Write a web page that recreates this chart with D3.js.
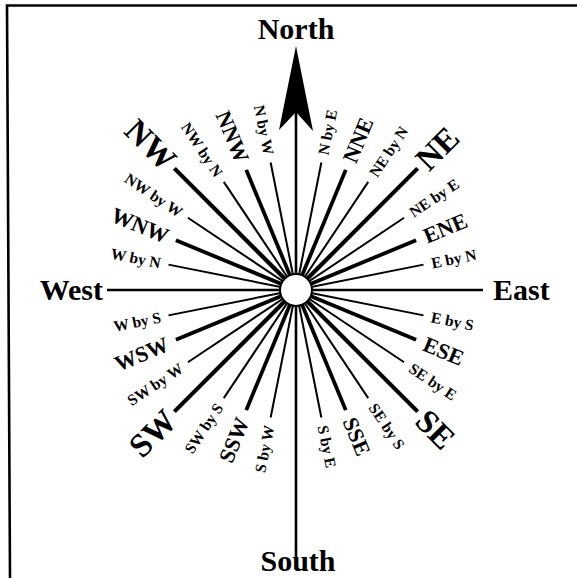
<!DOCTYPE html>
<html>
<head>
  <meta charset="utf-8">
  <script src="https://d3js.org/d3.v7.min.js"></script>
  <style>
    body { margin: 0; background: #fff; }
    svg text { font-family: "Liberation Serif", "Times New Roman", serif; font-weight: bold; fill: #000; }
  </style>
</head>
<body>
<script>
  // the 32 points of the compass, clockwise from north
  var pointNames = ["North", "N by E", "NNE", "NE by N", "NE", "NE by E", "ENE", "E by N",
    "East", "E by S", "ESE", "SE by E", "SE", "SE by S", "SSE", "S by E",
    "South", "S by W", "SSW", "SW by S", "SW", "SW by W", "WSW", "W by S",
    "West", "W by N", "WNW", "NW by W", "NW", "NW by N", "NNW", "N by W"];
  // 0 = cardinal, 1 = intercardinal, 2 = half wind, 3 = quarter wind
  var pointRank = [0, 3, 2, 3, 1, 3, 2, 3,
    0, 3, 2, 3, 1, 3, 2, 3,
    0, 3, 2, 3, 1, 3, 2, 3,
    0, 3, 2, 3, 1, 3, 2, 3];

  var width = 577, height = 578;
  var cx = 296, cy = 290;

  var svg = d3.select("body").append("svg")
    .attr("width", width)
    .attr("height", height);

  // frame (top and left only, like the scan)
  svg.append("path")
    .attr("d", "M10,578 L7,5.5 L577,5.5")
    .attr("fill", "none")
    .attr("stroke", "#000")
    .attr("stroke-width", 2.6);

  var bearing = d3.scaleLinear().domain([0, pointNames.length]).range([0, 360]);
  var rayLen = d3.scaleOrdinal().domain([1, 2, 3]).range([172, 130, 130]);
  var rayWidth = d3.scaleOrdinal().domain([0, 1, 2, 3]).range([2.6, 4.2, 3.8, 2]);
  var fontSize = d3.scaleOrdinal().domain([1, 2, 3]).range([33, 22, 15.5]);
  var labelGap = d3.scaleOrdinal().domain([1, 2, 3]).range([5, 9, 8]);

  var rad = function(deg) { return deg * Math.PI / 180; };
  var px = function(a, r) { return cx + r * Math.sin(rad(a)); };
  var py = function(a, r) { return cy - r * Math.cos(rad(a)); };

  var points = pointNames.map(function(name, i) {
    return { name: name, rank: pointRank[i], angle: bearing(i) };
  });
  var minor = points.filter(function(d) { return d.rank > 0; });
  var cardinal = points.filter(function(d) { return d.rank === 0; });

  // how far each cardinal line runs
  var cardinalReach = { "North": 178, "East": 187, "South": 268, "West": 189 };

  var g = svg.append("g");

  g.selectAll("line.card")
    .data(cardinal)
    .enter().append("line")
    .attr("class", "card")
    .attr("x1", cx).attr("y1", cy)
    .attr("x2", function(d) { return px(d.angle, cardinalReach[d.name]); })
    .attr("y2", function(d) { return py(d.angle, cardinalReach[d.name]); })
    .attr("stroke", "#000")
    .attr("stroke-width", function(d) { return rayWidth(d.rank); });

  g.selectAll("line.ray")
    .data(minor)
    .enter().append("line")
    .attr("class", "ray")
    .attr("x1", cx).attr("y1", cy)
    .attr("x2", function(d) { return px(d.angle, rayLen(d.rank)); })
    .attr("y2", function(d) { return py(d.angle, rayLen(d.rank)); })
    .attr("stroke", "#000")
    .attr("stroke-width", function(d) { return rayWidth(d.rank); });

  // north arrow head
  g.append("path")
    .attr("d", "M" + cx + "," + (cy - 244) +
      " L" + (cx + 17) + "," + (cy - 159) +
      " L" + cx + "," + (cy - 178) +
      " L" + (cx - 17) + "," + (cy - 160) + " Z")
    .attr("fill", "#000");

  // labels of the 28 minor points, read left to right
  g.selectAll("text.pt")
    .data(minor)
    .enter().append("text")
    .attr("class", "pt")
    .attr("font-size", function(d) { return fontSize(d.rank) + "px"; })
    .attr("dominant-baseline", "central")
    .attr("text-anchor", function(d) { return d.angle < 180 ? "start" : "end"; })
    .attr("transform", function(d) {
      var r = rayLen(d.rank) + labelGap(d.rank);
      var rot = d.angle < 180 ? d.angle - 90 : d.angle - 270;
      return "translate(" + px(d.angle, r) + "," + py(d.angle, r) + ") rotate(" + rot + ")";
    })
    .text(function(d) { return d.name; });

  // cardinal labels
  var cardPos = {
    "North": { x: cx, y: 39, anchor: "middle" },
    "South": { x: cx + 2, y: 571, anchor: "middle" },
    "West": { x: cx - 193, y: cy + 10, anchor: "end" },
    "East": { x: cx + 197, y: cy + 10, anchor: "start" }
  };
  g.selectAll("text.card")
    .data(cardinal)
    .enter().append("text")
    .attr("class", "card")
    .attr("font-size", "30px")
    .attr("x", function(d) { return cardPos[d.name].x; })
    .attr("y", function(d) { return cardPos[d.name].y; })
    .attr("text-anchor", function(d) { return cardPos[d.name].anchor; })
    .text(function(d) { return d.name; });

  // hub
  g.append("circle")
    .attr("cx", cx).attr("cy", cy).attr("r", 16)
    .attr("fill", "#fff")
    .attr("stroke", "#000")
    .attr("stroke-width", 2);
</script>
</body>
</html>
